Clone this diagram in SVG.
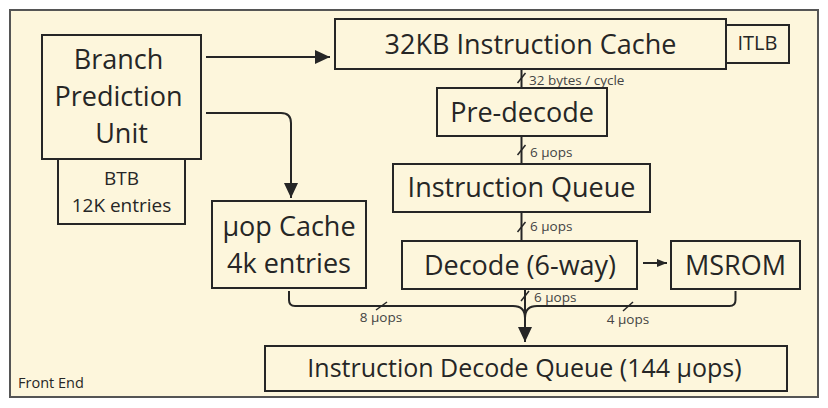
<svg xmlns="http://www.w3.org/2000/svg" width="828" height="408" viewBox="0 0 828 408">
<style>
.box{fill:#fdf6dc;stroke:#262626;stroke-width:2}
.t{font-family:"Open Sans","Liberation Sans",sans-serif;fill:#262626;text-anchor:middle}
.big{font-size:27px}
.mid{font-size:19px}
.sm{font-family:"Open Sans","Liberation Sans",sans-serif;font-size:13.5px;fill:#444}
.ln{fill:none;stroke:#262626;stroke-width:2}
.sl{stroke:#262626;stroke-width:1.5}
</style>
<defs>
<marker id="ah" markerWidth="15" markerHeight="14" refX="15" refY="7" orient="auto" markerUnits="userSpaceOnUse"><path d="M0,0 L15,7 L0,14 Z" fill="#262626"/></marker>
<marker id="as" markerWidth="10" markerHeight="8" refX="10" refY="4" orient="auto" markerUnits="userSpaceOnUse"><path d="M0,0 L10,4 L0,8 Z" fill="#262626"/></marker>
</defs>
<rect x="0" y="0" width="828" height="408" fill="#ffffff"/>
<g id="frame">
<rect x="10" y="10" width="808" height="387" fill="#fdf6dc" stroke="#555" stroke-width="2"/>
<text x="18" y="388" font-family="Open Sans, Liberation Sans, sans-serif" font-size="14.5" fill="#262626">Front End</text>
</g>
<g id="connectors">
<path class="ln" d="M206,57 H330" marker-end="url(#ah)"/>
<path class="ln" d="M206,113 H281 Q291,113 291,123 V198" marker-end="url(#ah)"/>
<path class="ln" d="M521.5,69 V88"/>
<line class="sl" x1="517.5" y1="83" x2="525.5" y2="73"/>
<text class="sm" x="529" y="85">32 bytes / cycle</text>
<path class="ln" d="M521.5,136 V164"/>
<line class="sl" x1="517.5" y1="155" x2="525.5" y2="145"/>
<text class="sm" x="530" y="157">6 µops</text>
<path class="ln" d="M521.5,212 V241"/>
<line class="sl" x1="517.5" y1="232" x2="525.5" y2="222"/>
<text class="sm" x="530" y="231">6 µops</text>
<path class="ln" d="M643,263 H667" marker-end="url(#as)"/>
<path class="ln" d="M525,289 V342" marker-end="url(#ah)"/>
<line class="sl" x1="521" y1="301" x2="529" y2="291"/>
<text class="sm" x="534" y="302">6 µops</text>
<path class="ln" d="M289,291 V300 Q289,306 295,306 H513 Q525,306 525,318"/>
<line class="sl" x1="376" y1="310" x2="387" y2="302"/>
<text class="sm" x="381" y="322" text-anchor="middle">8 µops</text>
<path class="ln" d="M735.5,291 V300 Q735.5,306 729.5,306 H537 Q525,306 525,318"/>
<line class="sl" x1="623" y1="311" x2="633" y2="302"/>
<text class="sm" x="628" y="324" text-anchor="middle">4 µops</text>
</g>
<g id="bpu">
<rect class="box" x="42" y="35" width="159" height="124"/>
<text class="t big" x="118.5" y="69">Branch</text>
<text class="t big" x="118.5" y="106">Prediction</text>
<text class="t big" x="121.5" y="143">Unit</text>
</g>
<g id="btb">
<rect class="box" x="58" y="159" width="127" height="65"/>
<text class="t mid" x="121.5" y="185">BTB</text>
<text class="t mid" x="121.5" y="212">12K entries</text>
</g>
<g id="icache">
<rect class="box" x="335" y="19" width="391" height="50"/>
<text class="t big" x="530.5" y="54">32KB Instruction Cache</text>
</g>
<g id="itlb">
<rect class="box" x="726" y="25" width="63" height="38"/>
<text class="t" x="757.5" y="50" font-size="20">ITLB</text>
</g>
<g id="predecode">
<rect class="box" x="437" y="88" width="170" height="48"/>
<text class="t big" x="522" y="122">Pre-decode</text>
</g>
<g id="iq">
<rect class="box" x="393" y="164" width="257" height="48"/>
<text class="t big" x="521.5" y="197">Instruction Queue</text>
</g>
<g id="uopcache">
<rect class="box" x="212" y="201" width="154" height="87"/>
<text class="t big" x="289" y="236">µop Cache</text>
<text class="t big" x="289" y="273">4k entries</text>
</g>
<g id="decode">
<rect class="box" x="402" y="241" width="235" height="48"/>
<text class="t big" x="520" y="275">Decode (6-way)</text>
</g>
<g id="msrom">
<rect class="box" x="671" y="241" width="129" height="48"/>
<text class="t big" x="735.5" y="275">MSROM</text>
</g>
<g id="idq">
<rect class="box" x="265" y="346" width="522" height="45"/>
<text class="t" x="524.5" y="377" font-size="25">Instruction Decode Queue (144 µops)</text>
</g>
</svg>
